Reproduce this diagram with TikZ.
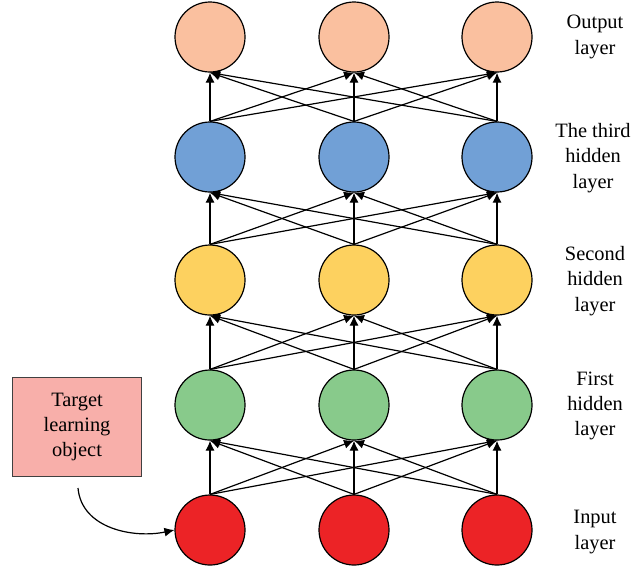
\documentclass[tikz,border=0pt]{standalone}
\usepackage{fontspec}
\setmainfont{Liberation Serif}
\usetikzlibrary{positioning, arrows.meta}

\definecolor{outpeach}{HTML}{FAC09F}
\definecolor{thirdblue}{HTML}{71A0D6}
\definecolor{secondyellow}{HTML}{FDD15F}
\definecolor{firstgreen}{HTML}{88CA8B}
\definecolor{inred}{HTML}{EC2326}
\definecolor{boxpink}{HTML}{F8AFAA}

\begin{document}
\begin{tikzpicture}[x=0.5pt, y=-0.5pt,
    neuron/.style={circle, draw, line width=0.6pt, minimum size=35pt, inner sep=0pt},
    link/.style={-{Latex[length=5pt, width=4.5pt]}, line width=0.6pt},
    layername/.style={align=center, font=\fontsize{10.2}{12.7}\selectfont}]

    \useasboundingbox (0,0) rectangle (635,569);

    % Neurons, row by row
    \foreach \row/\y/\col in {in/530/inred, one/405/firstgreen, two/280/secondyellow,
                              three/157/thirdblue, out/37/outpeach}
        \foreach \i/\x in {1/210, 2/354, 3/497}
            \node[neuron, fill=\col] (\row\i) at (\x,\y) {};

    % Full connections between neighbouring layers
    \foreach \a/\b in {in/one, one/two, two/three, three/out}
        \foreach \i in {1,2,3}
            \foreach \j in {1,2,3}
                \draw[link] (\a\i.north) -- (\b\j.south);

    % Layer names
    \node[layername] (lout)   at (595,37)  {Output\\layer};
    \node[layername] (lthree) at (593,158) {The third\\hidden\\layer};
    \node[layername] (ltwo)   at (595,281) {Second\\hidden\\layer};
    \node[layername] (lone)   at (595,406) {First\\hidden\\layer};
    \node[layername] (lin)    at (595,532) {Input\\layer};

    % Target learning object
    \node[draw=black!75, fill=boxpink, line width=0.6pt, minimum width=64.5pt,
          minimum height=49.5pt, layername] (target) at (77,427)
        {Target\\learning\\object};
    \coordinate (tstart) at (78,488);
    \draw[link] (tstart) to[out=-85, in=192] (in1.west);

\end{tikzpicture}
\end{document}
